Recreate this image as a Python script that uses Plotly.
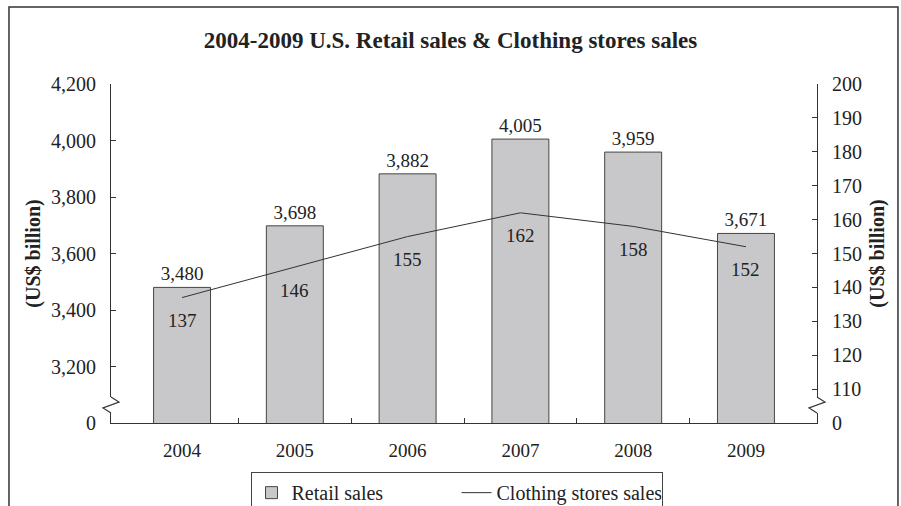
import plotly.graph_objects as go

# Data
years = ["2004", "2005", "2006", "2007", "2008", "2009"]
retail_sales = [3480, 3698, 3882, 4005, 3959, 3671]
clothing_sales = [137, 146, 155, 162, 158, 152]

# Broken axes: the lowest tick stands for zero
left_tickvals = [3000, 3200, 3400, 3600, 3800, 4000, 4200]
left_ticktext = ["0", "3,200", "3,400", "3,600", "3,800", "4,000", "4,200"]
right_tickvals = [100, 110, 120, 130, 140, 150, 160, 170, 180, 190, 200]
right_ticktext = ["0"] + [str(v) for v in right_tickvals[1:]]

FONT = "Liberation Serif"
INK = "#222222"
AXIS = "#333333"

x = list(range(len(years)))

fig = go.Figure()
fig.add_trace(go.Bar(
    x=x, y=retail_sales, name="Retail sales", width=0.505,
    marker=dict(color="#c8c8ca", line=dict(color="#454545", width=1)),
    texttemplate="%{y:,.0f}", textposition="outside",
    textfont=dict(family=FONT, size=19, color=INK),
))
fig.add_trace(go.Scatter(
    x=x, y=clothing_sales, name="Clothing stores sales", yaxis="y2",
    mode="lines", line=dict(color="#333333", width=1),
))

# Value labels under the clothing line
for xi, v in zip(x, clothing_sales):
    fig.add_annotation(x=xi, y=v, yref="y2", text=str(v), showarrow=False,
                       yshift=-23, font=dict(family=FONT, size=19, color=INK))

# Zigzag break marks on both vertical axes (pixel paths anchored to the axis corners)
def axis_break(xa):
    fig.add_shape(type="rect", xref="paper", yref="paper", xsizemode="pixel",
                  ysizemode="pixel", xanchor=xa, yanchor=0,
                  x0=-3, x1=3, y0=10, y1=26, fillcolor="white",
                  line=dict(width=0), layer="above")
    fig.add_shape(type="path", xref="paper", yref="paper", xsizemode="pixel",
                  ysizemode="pixel", xanchor=xa, yanchor=0,
                  path="M0,10 L-8,15 L8,21 L0,26",
                  line=dict(color=AXIS, width=1.2), layer="above")

axis_break(0)
axis_break(1)

# Outer frame
fig.add_shape(type="rect", xref="paper", yref="paper",
              x0=-0.1445, x1=1.1147, y0=-0.4, y1=1.227,
              line=dict(color="#333333", width=1.5), fillcolor="rgba(0,0,0,0)",
              layer="below")

fig.update_layout(
    width=901, height=506,
    margin=dict(l=111, r=84, t=84, b=83, autoexpand=False),
    paper_bgcolor="white", plot_bgcolor="white",
    font=dict(family=FONT, size=19, color=INK),
    title=dict(text="<b>2004-2009 U.S. Retail sales & Clothing stores sales</b>",
               x=0.5, xanchor="center", y=1 - 40 / 506, yanchor="middle",
               font=dict(family=FONT, size=23, color=INK)),
    showlegend=True,
    legend=dict(orientation="h", x=0.4894, xanchor="center", y=-0.145, yanchor="top",
                bordercolor="#444444", borderwidth=1, bgcolor="white",
                font=dict(family=FONT, size=20, color=INK),
                entrywidth=160),
    xaxis=dict(range=[-0.63, 5.63], tickvals=x, ticktext=years, ticks="",
               showline=True, linecolor=AXIS, linewidth=1.2, showgrid=False,
               zeroline=False, ticklabelstandoff=10,
               minor=dict(tickvals=[0.5, 1.5, 2.5, 3.5, 4.5], ticks="inside",
                          ticklen=5, tickcolor=AXIS, tickwidth=1.2, showgrid=False)),
    yaxis=dict(range=[3000, 4200], tickvals=left_tickvals, ticktext=left_ticktext,
               ticks="inside", ticklen=5, tickcolor=AXIS, tickwidth=1.2,
               showline=True, linecolor=AXIS, linewidth=1.2, showgrid=False,
               zeroline=False, ticklabelstandoff=10, tickfont=dict(size=20),
               title=dict(text="<b>(US$ billion)</b>", standoff=4,
                          font=dict(family=FONT, size=20, color=INK))),
    yaxis2=dict(range=[100, 200], overlaying="y", side="right",
                tickvals=right_tickvals, ticktext=right_ticktext,
                ticks="inside", ticklen=5, tickcolor=AXIS, tickwidth=1.2,
                showline=True, linecolor=AXIS, linewidth=1.2, showgrid=False,
                zeroline=False, ticklabelstandoff=10, tickfont=dict(size=20),
                title=dict(text="<b>(US$ billion)</b>", standoff=8,
                           font=dict(family=FONT, size=20, color=INK))),
)

fig.write_html("out.html")
